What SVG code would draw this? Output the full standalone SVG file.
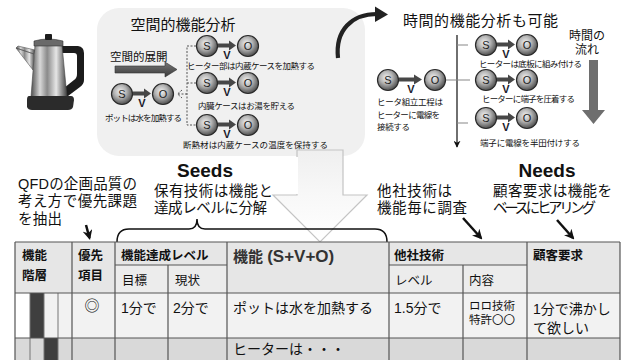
<svg xmlns="http://www.w3.org/2000/svg" width="625" height="360" viewBox="0 0 625 360">
  <style>
    text { font-family: "Liberation Sans", "Noto Sans CJK JP", sans-serif; fill: #111; }
    .ttl { font-size: 15px; }
    .mid { font-size: 14.5px; }
    .big { font-size: 19px; font-weight: bold; text-anchor: middle; }
    .lbl { font-size: 8.5px; }
    .ltr { font-size: 11px; text-anchor: middle; fill: #222; }
    .v { font-size: 11px; font-weight: bold; text-anchor: middle; fill: #1a1a2a; }
    .ball { fill: url(#ballGrad); stroke: #2a2a2a; stroke-width: 1.2; }
    .sv { fill: #474747; }
    .th { font-size: 12.5px; font-weight: bold; }
    .thb { font-size: 15px; font-weight: bold; fill: #333; }
    .thl { font-size: 17px; }
    .ts { font-size: 12.5px; }
    .td { font-size: 14px; }
    .small { font-size: 11.5px; }
    .grid { stroke: #555; stroke-width: 1.2; fill: none; }
    .sub { stroke: #777; stroke-width: 1; }
    .dash { stroke: #555; stroke-width: 1; stroke-dasharray: 2 1.5; fill: none; }
    .pt { stroke: #111; stroke-width: 2.5; fill: none; }
  </style>
  <defs>
    <radialGradient id="ballGrad" cx="0.42" cy="0.38" r="0.65">
      <stop offset="0" stop-color="#f0f0f0"/>
      <stop offset="0.45" stop-color="#b5b5b5"/>
      <stop offset="1" stop-color="#454545"/>
    </radialGradient>
    <linearGradient id="steel" x1="0" y1="0" x2="1" y2="0">
      <stop offset="0" stop-color="#4d4d4d"/>
      <stop offset="0.25" stop-color="#d8d8d8"/>
      <stop offset="0.45" stop-color="#8a8a8a"/>
      <stop offset="0.7" stop-color="#e6e6e6"/>
      <stop offset="1" stop-color="#3f3f3f"/>
    </linearGradient>
    <linearGradient id="bigDown" x1="0" y1="0" x2="0" y2="1">
      <stop offset="0" stop-color="#efefef"/>
      <stop offset="0.5" stop-color="#f8f8f8"/>
      <stop offset="1" stop-color="#ffffff"/>
    </linearGradient>
    <linearGradient id="darkArrow" x1="0" y1="0" x2="0" y2="1">
      <stop offset="0" stop-color="#777"/>
      <stop offset="1" stop-color="#3a3a3a"/>
    </linearGradient>
    <marker id="head" viewBox="0 0 10 10" refX="8" refY="5" markerWidth="4" markerHeight="4" orient="auto">
      <path d="M0,0 L10,5 L0,10 L3,5 z" fill="#111"/>
    </marker>
    <marker id="headSmall" viewBox="0 0 10 10" refX="9" refY="5" markerWidth="7" markerHeight="7" orient="auto" markerUnits="userSpaceOnUse">
      <path d="M0,0 L10,5 L0,10 L3,5 z" fill="#111"/>
    </marker>
    <!-- subject - verb - object unit, S centred on the origin -->
    <g id="svo">
      <circle class="ball" cx="0" cy="0" r="10.5"/>
      <text class="ltr" x="0" y="4">S</text>
      <path class="sv" d="M11,-2.5 h11 v-3 l7,5 l-7,5 v-3 h-11 z"/>
      <circle class="ball" cx="41" cy="0" r="10.5"/>
      <text class="ltr" x="41" y="4">O</text>
      <text class="v" x="20" y="13">V</text>
    </g>
    <g id="svoWide">
      <circle class="ball" cx="0" cy="0" r="10.5"/>
      <text class="ltr" x="0" y="4">S</text>
      <path class="sv" d="M11,-2.5 h15 v-3 l8,5 l-8,5 v-3 h-15 z"/>
      <circle class="ball" cx="47" cy="0" r="10.5"/>
      <text class="ltr" x="47" y="4">O</text>
      <text class="v" x="23" y="13">V</text>
    </g>
  </defs>

  <rect width="625" height="360" fill="#fff"/>

  <!-- kettle -->
  <g id="kettle">
    <path d="M34,54 L16,48 L18,46 L35,50 Z M33,70 L16,48 L34,54 Z" fill="url(#steel)" stroke="#555" stroke-width="0.6"/>
    <path fill-rule="evenodd" fill="#1c1c1c" d="M60,46 L78,46 Q84,47 84,53 L84,80 Q84,84 80,87 L68,96 L64,96 L64,88 L74,80 Q77,78 77,74 L77,56 Q77,53 74,53 L62,53 Z"/>
    <path d="M35,45 L62,45 L67,97 L31,97 Z" fill="url(#steel)" stroke="#444" stroke-width="0.6"/>
    <path d="M34,41 Q48,37 63,41 L63,46 L34,46 Z" fill="#6a6a6a" stroke="#333" stroke-width="0.6"/>
    <rect x="45" y="34" width="7" height="6" rx="1" fill="#1c1c1c"/>
    <path d="M29,96 L71,96 Q74,96 74,100 L73,107 Q72,110 68,110 L32,110 Q28,110 27,107 L27,100 Q27,96 29,96 Z" fill="#2b2b2b"/>
  </g>

  <!-- spatial function analysis panel -->
  <rect x="97" y="8" width="268" height="148" rx="22" fill="#f0f0f0"/>

  <!-- large hollow arrow from the panel down to the table -->
  <path d="M297,150 L343,150 L343,195 L367,195 L320,242 L273,195 L297,195 Z" fill="url(#bigDown)" stroke="#c4c4c4" stroke-width="1.2"/>
  <rect x="150" y="157" width="148" height="37" fill="#fff"/>

  <g id="spatial-title">
    <text class="ttl" x="183" y="30" text-anchor="middle">空間的機能分析</text>
  </g>
  <g id="spatial-expand">
    <text x="110" y="61" font-size="11.5">空間的展開</text>
    <path d="M115,66 L165,66 L165,62 L177,69.5 L165,77 L165,73 L115,73 Z" fill="url(#darkArrow)" stroke="#333" stroke-width="0.6"/>
  </g>

  <g id="connectors">
    <!-- dashed breakdown bracket -->
    <path class="dash" d="M196,46 H187 V125 H196 M187,83 H196 M187,94 H178"/>
    <path class="dash" d="M182,90 L177.5,94 L182,98"/>
    <!-- curved hand-off arrow -->
    <path d="M338,58 C335,30 352,14 377,14" fill="none" stroke="#222" stroke-width="4.2"/>
    <path d="M375,6.5 L388,14.5 L375,22 Z" fill="#222"/>
    <!-- time axis -->
    <line x1="457" y1="35" x2="457" y2="147" stroke="#222" stroke-width="1.3" marker-end="url(#headSmall)"/>
    <path d="M457,45 H468 M446,80 H470 M457,123 H468" stroke="#888" stroke-width="1.2"/>
    <!-- flow of time arrow -->
    <path d="M589,60 L598,60 L598,110 L605,110 L593.5,124 L582,110 L589,110 Z" fill="#6e6e6e"/>
    <!-- pointers into the table -->
    <line class="pt" x1="86" y1="225" x2="89.5" y2="238" marker-end="url(#head)"/>
    <line class="pt" x1="463" y1="218" x2="481" y2="238" marker-end="url(#head)"/>
    <line class="pt" x1="557" y1="220" x2="573" y2="238" marker-end="url(#head)"/>
    <!-- seeds brace -->
    <path d="M117,242 Q117,229 129,229 L189,229 Q197,229 197,219 Q197,229 205,229 L375,229 Q387,229 387,242" fill="none" stroke="#111" stroke-width="1.5"/>
  </g>

  <!-- spatial breakdown nodes -->
  <g id="svo-pot">
    <use href="#svo" x="122" y="94"/>
    <text class="lbl" x="105" y="121" textLength="77">ポットは水を加熱する</text>
  </g>
  <g id="svo-heater">
    <use href="#svo" x="207" y="46"/>
    <text class="lbl" x="187" y="69" textLength="128">ヒーター部は内蔵ケースを加熱する</text>
  </g>
  <g id="svo-case">
    <use href="#svo" x="207" y="83"/>
    <text class="lbl" x="198" y="109" textLength="97">内臓ケースはお湯を貯える</text>
  </g>
  <g id="svo-insulation">
    <use href="#svo" x="207" y="125"/>
    <text class="lbl" x="183" y="148" textLength="145">断熱材は内蔵ケースの温度を保持する</text>
  </g>

  <!-- temporal analysis -->
  <g id="temporal-title">
    <text class="ttl" x="403" y="26" textLength="155">時間的機能分析も可能</text>
  </g>
  <g id="svo-assembly">
    <use href="#svoWide" x="388" y="80"/>
    <text class="lbl" x="377" y="105" textLength="66">ヒータ組立工程は</text>
    <text class="lbl" x="377" y="118" textLength="63">ヒーターに電線を</text>
    <text class="lbl" x="377" y="130" textLength="33">接続する</text>
  </g>
  <g id="svo-step1">
    <use href="#svo" x="486" y="45"/>
    <text class="lbl" x="479" y="67" textLength="103">ヒーターは底板に組み付ける</text>
  </g>
  <g id="svo-step2">
    <use href="#svo" x="486" y="80"/>
    <text class="lbl" x="482" y="102" textLength="93">ヒーターに端子を圧着する</text>
  </g>
  <g id="svo-step3">
    <use href="#svo" x="486" y="118"/>
    <text class="lbl" x="480" y="146" textLength="100">端子に電線を半田付けする</text>
  </g>
  <g id="time-flow">
    <text x="587" y="40" font-size="12" text-anchor="middle">時間の</text>
    <text x="587" y="54" font-size="12" text-anchor="middle">流れ</text>
  </g>

  <!-- annotations -->
  <g id="note-qfd">
    <text class="mid" x="18" y="189" textLength="119">QFDの企画品質の</text>
    <text class="mid" x="18" y="206" textLength="119">考え方で優先課題</text>
    <text class="mid" x="18" y="224" textLength="44">を抽出</text>
  </g>
  <g id="note-seeds">
    <text class="big" x="205" y="177">Seeds</text>
    <text class="mid" x="154" y="196" textLength="119">保有技術は機能と</text>
    <text class="mid" x="154" y="213" textLength="113">達成レベルに分解</text>
  </g>
  <g id="note-competitors">
    <text class="mid" x="377" y="196" textLength="75">他社技術は</text>
    <text class="mid" x="377" y="213" textLength="90">機能毎に調査</text>
  </g>
  <g id="note-needs">
    <text class="big" x="547" y="177">Needs</text>
    <text class="mid" x="493" y="196" textLength="119">顧客要求は機能を</text>
    <text class="mid" x="493" y="213" textLength="103">ベースにヒアリング</text>
  </g>

  <!-- QFD table -->
  <g id="table">
    <rect x="15" y="242" width="605" height="51" fill="#e6e6e6"/>
    <rect x="115" y="265" width="112" height="28" fill="#ececec"/>
    <rect x="389" y="265" width="138" height="28" fill="#ececec"/>
    <rect x="15" y="293" width="605" height="45" fill="#f2f2f2"/>
    <rect x="15" y="338" width="605" height="22" fill="#d9d9d9"/>
    <!-- function hierarchy level bars -->
    <rect x="15" y="293" width="15" height="45" fill="#fff"/>
    <rect x="30" y="293" width="14" height="45" fill="#3f3f3f"/>
    <rect x="44" y="338" width="14" height="22" fill="#3f3f3f"/>
    <path class="sub" d="M30,293 V360 M44,293 V360 M58,293 V360"/>

    <path class="grid" d="M15,242 H620 M115,265 H227 M389,265 H527 M15,293 H620 M15,338 H620
      M15,242 V360 M72,242 V360 M115,242 V360 M168,265 V360 M227,242 V360 M389,242 V360 M463,265 V360 M527,242 V360 M620,242 V360"/>

    <text class="th" x="22" y="260">機能</text>
    <text class="th" x="22" y="280">階層</text>
    <text class="th" x="78" y="260">優先</text>
    <text class="th" x="78" y="280">項目</text>
    <text class="th" x="121" y="260">機能達成レベル</text>
    <text class="ts" x="122" y="285">目標</text>
    <text class="ts" x="175" y="285">現状</text>
    <text class="thb" x="233" y="262">機能 <tspan class="thl">(S+V+O)</tspan></text>
    <text class="th" x="394" y="260">他社技術</text>
    <text class="ts" x="395" y="285">レベル</text>
    <text class="ts" x="469" y="285">内容</text>
    <text class="th" x="533" y="260">顧客要求</text>

    <text x="92" y="311" font-size="15" text-anchor="middle" fill="#222">◎</text>
    <text class="td" x="121" y="313">1分で</text>
    <text class="td" x="173" y="313">2分で</text>
    <text class="td" x="233" y="313" textLength="140">ポットは水を加熱する</text>
    <text class="td" x="394" y="313">1.5分で</text>
    <text class="small" x="469" y="310">ロロ技術</text>
    <text class="small" x="469" y="324">特許〇〇</text>
    <text class="td" x="533" y="314">1分で沸かし</text>
    <text class="td" x="533" y="333">て欲しい</text>
    <text class="td" x="233" y="354">ヒーターは・・・</text>
  </g>
</svg>
